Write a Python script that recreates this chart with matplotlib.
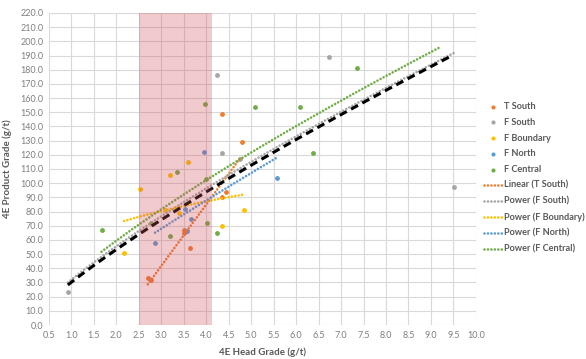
import numpy as np
import matplotlib
matplotlib.use("Agg")
import matplotlib.pyplot as plt

plt.rcParams['font.family'] = ['Lato', 'DejaVu Sans']

# scatter data (head grade, product grade)
t_south_x = [2.70, 2.77, 3.50, 3.51, 3.64, 4.34, 4.45, 4.34, 4.79]
t_south_y = [33.0, 32.0, 67.0, 65.0, 54.0, 90.0, 94.0, 149.0, 129.0]

f_south_x = [0.92, 4.23, 4.36, 4.75, 6.74, 9.52]
f_south_y = [23.0, 176.0, 121.0, 117.0, 189.0, 97.0]

f_boundary_x = [2.18, 2.53, 3.19, 3.40, 3.60, 4.34, 4.84, 3.08]
f_boundary_y = [51.0, 96.0, 106.0, 79.0, 115.0, 70.0, 81.0, 81.0]

f_north_x = [2.87, 3.53, 3.58, 3.65, 3.96, 5.58]
f_north_y = [58.0, 82.0, 66.0, 75.0, 122.0, 104.0]

f_central_x = [1.67, 2.78, 3.20, 3.36, 3.97, 4.00, 4.01, 4.25, 5.09, 6.09, 6.37, 7.35]
f_central_y = [67.0, 72.0, 63.0, 108.0, 156.0, 103.0, 72.0, 65.0, 154.0, 154.0, 121.0, 181.0]

# trendline coefficients and x ranges
t_south_lin = (43.3, -88.2, 2.70, 4.75)          # slope, intercept, x0, x1
f_south_pow = (32.0, 0.795, 0.92, 9.52)          # a, b, x0, x1
f_boundary_pow = (58.8, 0.284, 2.17, 4.87)
f_north_pow = (25.5, 0.892, 2.86, 5.57)
f_central_pow = (34.6, 0.781, 1.67, 9.19)
overall_pow = (30.2, 0.818, 0.92, 9.47)

band = (2.5, 4.12)

c_t_south = '#ED7D31'
c_f_south = '#A5A5A5'
c_f_boundary = '#FFC000'
c_f_north = '#5B9BD5'
c_f_central = '#70AD47'
grey_txt = '#7F7F7F'

fig = plt.figure(figsize=(5.86, 3.59), dpi=100)
ax = fig.add_axes([0.0836, 0.0947, 0.7284, 0.8691])

msize = 6
ax.scatter(t_south_x, t_south_y, s=msize, color=c_t_south, label='T South', zorder=3)
ax.scatter(f_south_x, f_south_y, s=msize, color=c_f_south, label='F South', zorder=3)
ax.scatter(f_boundary_x, f_boundary_y, s=msize, color=c_f_boundary, label='F Boundary', zorder=3)
ax.scatter(f_north_x, f_north_y, s=msize, color=c_f_north, label='F North', zorder=3)
ax.scatter(f_central_x, f_central_y, s=msize, color=c_f_central, label='F Central', zorder=3)


def power_line(p, n=100):
    a, b, x0, x1 = p
    xs = np.linspace(x0, x1, n)
    return xs, a * xs ** b


dot = dict(linestyle=(0, (0.01, 1.3)), linewidth=1.9, dash_capstyle='round', zorder=4)

m, c, x0, x1 = t_south_lin
xs = np.linspace(x0, x1, 2)
ax.plot(xs, m * xs + c, color=c_t_south, label='Linear (T South)', **dot)
ax.plot(*power_line(f_south_pow), color=c_f_south, label='Power (F South)', **dot)
ax.plot(*power_line(f_boundary_pow), color=c_f_boundary, label='Power (F Boundary)', **dot)
ax.plot(*power_line(f_north_pow), color=c_f_north, label='Power (F North)', **dot)
ax.plot(*power_line(f_central_pow), color=c_f_central, label='Power (F Central)', **dot)
ax.plot(*power_line(overall_pow), color='black', linewidth=2.2, dashes=(2.6, 1.6),
        label='_nolegend_', zorder=5)

# shaded band drawn over the points
ax.axvspan(band[0], band[1], color='#D0505C', alpha=0.3, lw=0, zorder=6)

ax.set_xlim(0.5, 10.0)
ax.set_ylim(0, 220)
ax.set_xticks(np.arange(0.5, 10.01, 0.5))
ax.set_yticks(np.arange(0, 220.1, 10))
ax.set_xticklabels([f'{v:.1f}' for v in np.arange(0.5, 10.01, 0.5)])
ax.set_yticklabels([f'{v:.1f}' for v in np.arange(0, 220.1, 10)])
ax.tick_params(length=0, labelsize=6.5, labelcolor=grey_txt, pad=4)
ax.grid(True, color='#D9D9D9', linewidth=0.8, zorder=0)
ax.set_axisbelow(True)
for s in ax.spines.values():
    s.set_visible(False)

ax.set_xlabel('4E Head Grade (g/t)', fontsize=7, fontweight='bold', color='#595959', labelpad=6)
ax.set_ylabel('4E Product Grade (g/t)', fontsize=7, fontweight='bold', color='#595959', labelpad=6)

leg = fig.legend(loc='upper left', bbox_to_anchor=(484 / 586, 1 - 102 / 359), frameon=False,
                 fontsize=6.6, handlelength=2.0, handletextpad=0.15, labelspacing=0.74,
                 borderpad=0, borderaxespad=0, markerscale=0.8)
for t in leg.get_texts():
    t.set_color('#595959')
    t.set_fontweight('bold')

fig.savefig('out.png', dpi=100)
